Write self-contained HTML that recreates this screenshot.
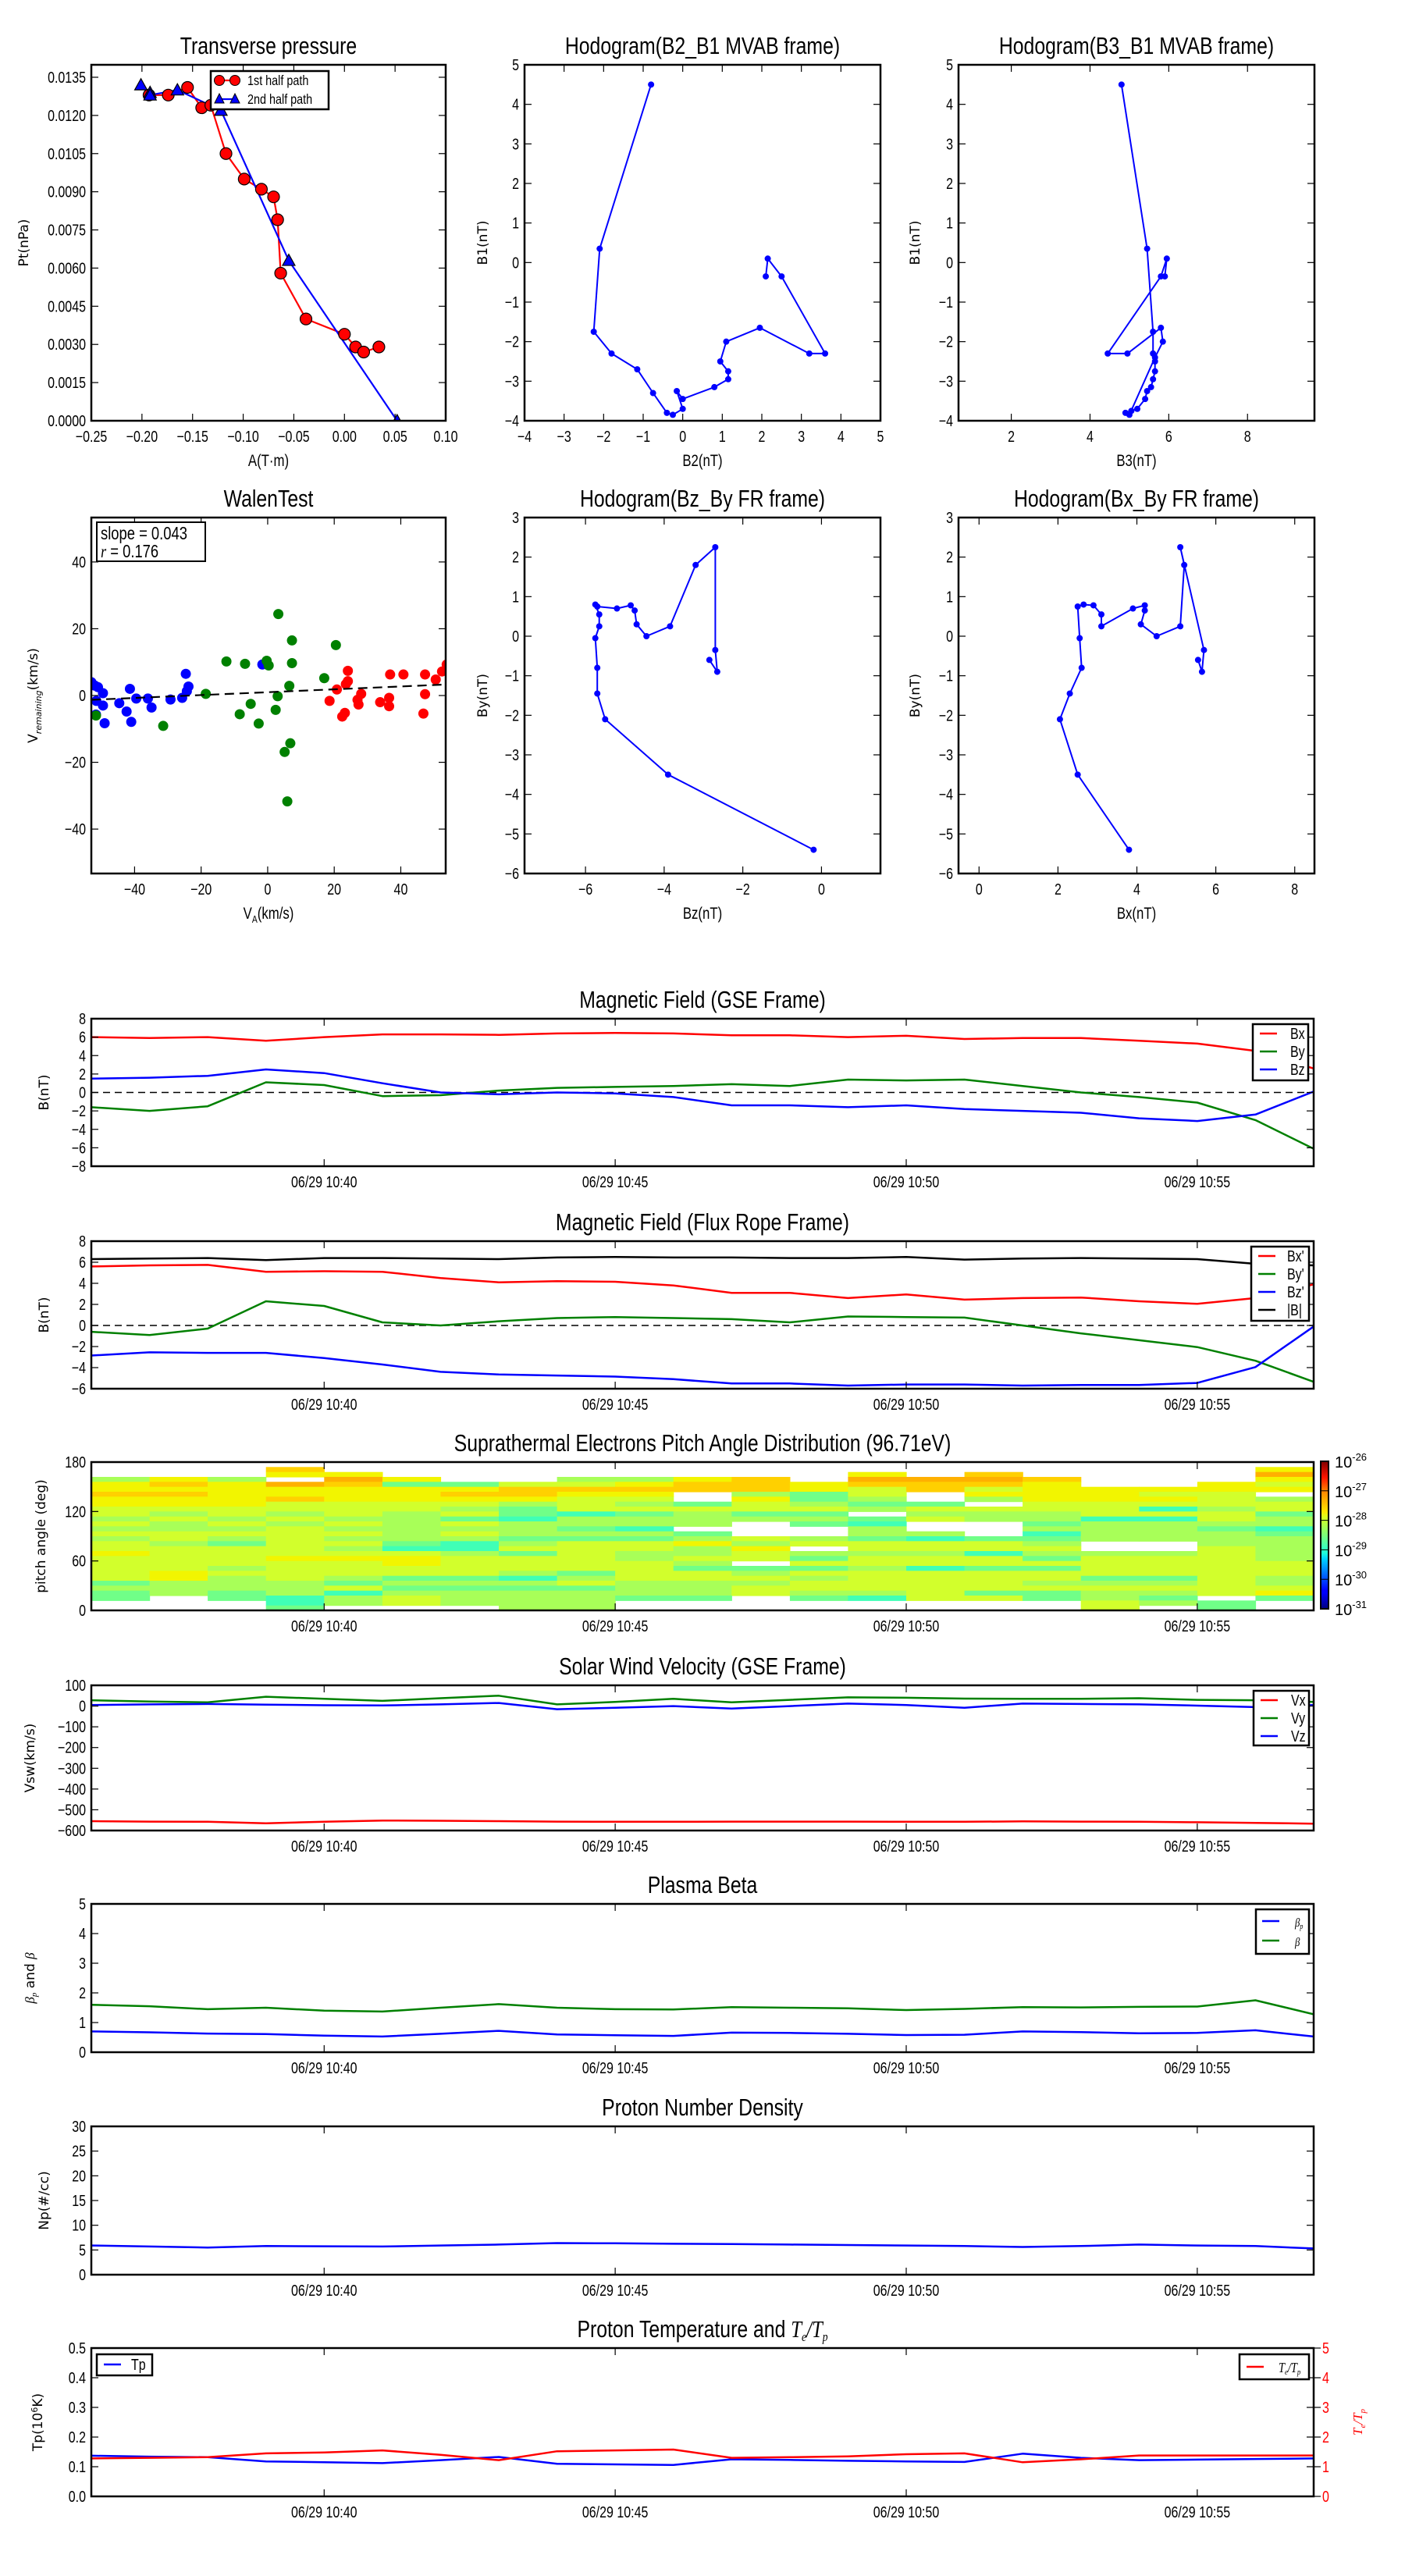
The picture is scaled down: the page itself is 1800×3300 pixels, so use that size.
<!DOCTYPE html>
<html><head><meta charset="utf-8"><title>Flux rope analysis</title>
<style>
html,body{margin:0;padding:0;background:#fff;}
svg{display:block;}
</style></head>
<body>
<svg id="fig" xmlns="http://www.w3.org/2000/svg" width="1800" height="3300" viewBox="0 0 1800 3300">
<rect x="0" y="0" width="1800" height="3300" fill="#fff"/>
<defs>
<linearGradient id="jetgrad" x1="0" y1="1" x2="0" y2="0">
<stop offset="0" stop-color="#00007f"/><stop offset="0.11" stop-color="#0000ff"/><stop offset="0.125" stop-color="#0000ff"/>
<stop offset="0.34" stop-color="#00d4ff"/><stop offset="0.38" stop-color="#1fffd8"/><stop offset="0.5" stop-color="#7cff79"/>
<stop offset="0.62" stop-color="#d8ff1f"/><stop offset="0.66" stop-color="#ffe500"/><stop offset="0.8" stop-color="#ff8200"/>
<stop offset="0.89" stop-color="#ff1400"/><stop offset="1" stop-color="#7f0000"/>
</linearGradient>
</defs>
</svg>
<script>
// ---------------- data ----------------
const tp1A=[-0.193,-0.174,-0.155,-0.141,-0.132,-0.117,-0.099,-0.082,-0.070,-0.066,-0.063,-0.038,0.000,0.011,0.019,0.034];
const tp1P=[0.0128,0.0128,0.0131,0.0123,0.0124,0.0105,0.0095,0.0091,0.0088,0.0079,0.0058,0.0040,0.0034,0.0029,0.0027,0.0029];
const tp2A=[-0.201,-0.192,-0.192,-0.165,-0.122,-0.055,0.052];
const tp2P=[0.0132,0.0129,0.0128,0.0130,0.0122,0.0063,0.0000];
const h1B2=[-0.8,-2.1,-2.25,-1.8,-1.15,-0.75,-0.4,-0.25,0.0,-0.15,0.0,0.8,1.15,1.15,0.95,1.1,1.95,3.2,3.6,2.5,2.15,2.1];
const h1B1=[4.5,0.35,-1.75,-2.3,-2.7,-3.3,-3.8,-3.85,-3.7,-3.25,-3.45,-3.15,-2.95,-2.75,-2.5,-2.0,-1.65,-2.3,-2.3,-0.35,0.1,-0.35];
const h2B3=[4.8,5.45,5.6,5.6,5.65,5.65,5.6,5.55,5.45,5.4,5.2,5.05,4.9,5.0,5.65,5.85,5.8,4.95,4.45,5.8,5.95,5.9];
const h2B1=[4.5,0.35,-1.75,-2.3,-2.5,-2.75,-2.95,-3.15,-3.25,-3.45,-3.7,-3.75,-3.8,-3.85,-2.4,-2.0,-1.65,-2.3,-2.3,-0.35,0.1,-0.35];
const h3Bz=[-0.2,-3.9,-5.5,-5.7,-5.7,-5.75,-5.65,-5.65,-5.75,-5.7,-5.2,-4.85,-4.75,-4.7,-4.45,-3.85,-3.2,-2.7,-2.7,-2.65,-2.85];
const h3By=[-5.4,-3.5,-2.1,-1.45,-0.8,-0.05,0.25,0.55,0.8,0.75,0.7,0.78,0.65,0.3,0.0,0.25,1.8,2.25,-0.35,-0.9,-0.6];
const h4Bx=[3.8,2.5,2.05,2.3,2.6,2.55,2.5,2.65,2.9,3.1,3.1,3.9,4.2,4.2,4.1,4.5,5.1,5.2,5.1,5.7,5.65,5.55];
const h4By=[-5.4,-3.5,-2.1,-1.45,-0.8,-0.05,0.75,0.8,0.78,0.55,0.25,0.7,0.78,0.65,0.3,0.0,0.25,1.8,2.25,-0.35,-0.9,-0.6];
const wBlueX=[-53,-52,-51,-51.5,-51.6,-49.5,-49.5,-49,-44.6,-42.4,-41.4,-41,-39.5,-36,-34.9,-29.2,-25.7,-24.3,-23.8,-24.6,-1.6];
const wBlueY=[4,3,2.5,-1.6,-5.7,0.7,-3,-8.3,-2.3,-4.8,2,-7.9,-0.9,-0.9,-3.6,-1.2,-0.7,1.3,2.7,6.5,9.3];
const wGreenX=[-51.6,-31.4,-18.6,-12.4,-8.4,-6.8,-5.1,-2.7,-0.3,0.3,2.4,3,3.2,5.1,5.9,6.5,6.8,7.3,7.3,17,20.5];
const wGreenY=[-6,-9.1,0.5,10.2,-5.6,9.5,-2.5,-8.4,10.4,9,-4.3,-0.2,24.4,-16.9,-31.7,2.9,-14.3,16.5,9.7,5.2,15.1];
const wRedX=[18.6,20.8,22.4,23.2,23.5,24.1,24.1,27,27.3,28.1,33.8,36.5,36.5,36.8,40.8,47.3,46.8,47.3,50.5,52.4,53.8];
const wRedY=[-1.6,1.8,-6.3,-5.2,3.4,4.3,7.4,-1.3,-2.7,0.5,-2,-0.7,-3.2,6.3,6.3,0.4,-5.4,6.3,4.8,7.2,9.3];
const walenSlope=0.043, walenIntercept=1.0;
const minutes=[36,37,38,39,40,41,42,43,44,45,46,47,48,49,50,51,52,53,54,55,56,57];
const gseBx=[6.0,5.9,6.0,5.6,6.0,6.3,6.3,6.25,6.4,6.45,6.4,6.2,6.2,6.0,6.15,5.8,5.9,5.9,5.6,5.3,4.5,2.6];
const gseBy=[-1.6,-2.0,-1.5,1.1,0.8,-0.4,-0.3,0.2,0.5,0.6,0.7,0.9,0.7,1.4,1.3,1.4,0.7,0.0,-0.5,-1.1,-3.0,-6.1];
const gseBz=[1.5,1.6,1.8,2.5,2.1,1.0,0.0,-0.2,0.0,-0.1,-0.5,-1.4,-1.4,-1.6,-1.4,-1.8,-2.0,-2.2,-2.8,-3.1,-2.4,0.1];
const frBx=[5.6,5.7,5.75,5.1,5.15,5.1,4.5,4.1,4.2,4.15,3.8,3.1,3.1,2.6,2.95,2.45,2.6,2.65,2.3,2.05,2.6,3.9];
const frBy=[-0.6,-0.9,-0.3,2.3,1.85,0.3,0.0,0.4,0.7,0.8,0.7,0.6,0.3,0.85,0.8,0.75,0.0,-0.75,-1.4,-2.05,-3.35,-5.35];
const frBz=[-2.85,-2.55,-2.6,-2.6,-3.1,-3.7,-4.4,-4.65,-4.75,-4.85,-5.1,-5.5,-5.5,-5.7,-5.6,-5.6,-5.7,-5.65,-5.65,-5.45,-3.95,-0.1];
const frBt=[6.3,6.35,6.4,6.2,6.4,6.4,6.35,6.3,6.45,6.5,6.45,6.45,6.4,6.4,6.5,6.25,6.35,6.4,6.35,6.3,5.85,5.7];
// PAD: 30 rows (top=174-180 deg ... bottom=0-6 deg), 21 one-minute columns; letters = flux level, '.' = no data
const padRows=[
".....................",
"...b................c",
"...cc........c.b....a",
"ece.ac..eecb.aaab...c",
"cbcabffddcbbcbbbc..cd",
"cccccccbbbbbcdbdcccccd",
"bbccccbbcc.efd.cccdd",
"cccbccccdd.cfe.ecccde",
"cccddddedefdeff.ddddd",
"ddddddefdddddeddddgede",
"dedededfgfeff.eeedddf",
"ededeefgeeeeefdeeggde",
"dedededeeee.fg..feeee",
"eeedeeeefg...e..eeefg",
"dddddedeeef..ee.geeef",
"ededeeefffedefgffeeeee",
"defddfgeddcedddde..ee",
"ddddeggdddec.dddd..de",
"cdddddefdeedeeegeeede",
"dddcccdddeddfdddfddde",
"dddddcdddde.ddddddddd",
"ddedddddddfffegffdddd",
"dcdddddefddeddddddddd",
"dcedeffgedddeddddffde",
"feeefeeedeeeddddeeede",
"eeeedffffeedddddddddd",
"fefegeeeeeedeedffeedcd",
"f.fgedeeeff.fgddfef.f",
"...gedeee........def.",
"...f...ee........d.f."];
const padLevels={a:-27.2,b:-27.5,c:-27.85,d:-28.15,e:-28.45,f:-28.75,g:-29.05};
const vswVx=[-555,-557,-558,-565,-558,-552,-553,-555,-557,-558,-558,-557,-557,-557,-558,-558,-556,-557,-558,-560,-563,-567];
const vswVy=[28,22,18,45,35,25,38,50,8,20,35,18,30,42,40,36,35,35,38,30,28,20];
const vswVz=[5,8,10,7,4,3,8,15,-15,-8,0,-12,0,12,5,-8,12,10,8,2,-5,5];
const betaP=[0.7,0.67,0.63,0.61,0.56,0.53,0.62,0.72,0.6,0.57,0.55,0.66,0.65,0.62,0.58,0.59,0.7,0.68,0.64,0.65,0.74,0.53];
const betaT=[1.6,1.55,1.45,1.5,1.4,1.37,1.5,1.62,1.5,1.45,1.44,1.52,1.5,1.48,1.42,1.46,1.52,1.51,1.53,1.54,1.75,1.28];
const np=[5.9,5.7,5.5,5.8,5.75,5.7,5.9,6.1,6.4,6.35,6.25,6.2,6.1,6.0,5.9,5.8,5.6,5.8,6.1,5.9,5.8,5.3];
const tpT=[0.137,0.134,0.132,0.118,0.115,0.112,0.122,0.133,0.11,0.108,0.106,0.125,0.123,0.12,0.118,0.116,0.144,0.13,0.122,0.124,0.126,0.128];
const teTp=[1.28,1.3,1.32,1.45,1.48,1.55,1.4,1.22,1.52,1.55,1.58,1.3,1.32,1.35,1.42,1.45,1.15,1.25,1.38,1.38,1.38,1.38];
const timeTicks=[40,45,50,55];
const timeTickLabels=["06/29 10:40","06/29 10:45","06/29 10:50","06/29 10:55"];

// ---------------- drawing ----------------
const NS='http://www.w3.org/2000/svg';
const svg=document.getElementById('fig');
const FN='"Liberation Sans",sans-serif';
const FW='"DejaVu Sans","Liberation Sans",sans-serif';
const CX=0.8; // horizontal condense factor for narrow matplotlib-like text
let clipN=0;
function E(tag,a,p){const e=document.createElementNS(NS,tag);for(const k in a)e.setAttribute(k,a[k]);(p||svg).appendChild(e);return e;}
function T(p,x,y,s,size,anchor,extra){const e=E('text',Object.assign({x:x,y:y,'font-size':size,'text-anchor':anchor||'middle','font-family':FN,fill:'#000'},extra||{}),p);e.textContent=s;return e;}
function TC(p,x,y,s,size,anchor,extra){const e=E('text',Object.assign({x:0,y:0,transform:`translate(${x},${y}) scale(${CX},1)`,'font-size':size,'text-anchor':anchor||'middle','font-family':FN,fill:'#000'},extra||{}),p);e.innerHTML=s;return e;}
function lin(d0,d1,r0,r1){return v=>r0+(v-d0)*(r1-r0)/(d1-d0);}
function fmt(v){return String(v).replace('-','\u2212');}

function axes(name,box,xd,yd,xt,xtl,yt,ytl,title,xlab,ylab){
  const [x0,y0,x1,y1]=box;
  const g=E('g',{});
  
  
  const sx=lin(xd[0],xd[1],x0,x1), sy=lin(yd[0],yd[1],y1,y0);
  const id='clip'+(clipN++);
  const cp=E('clipPath',{id:id},g);E('rect',{x:x0,y:y0,width:x1-x0,height:y1-y0},cp);
  const data=E('g',{'clip-path':'url(#'+id+')'},g);
  
  
  xt.forEach((v,i)=>{
    const X=sx(v);
    E('line',{x1:X,y1:y1,x2:X,y2:y1-9,stroke:'#000','stroke-width':1.2},g);
    E('line',{x1:X,y1:y0,x2:X,y2:y0+9,stroke:'#000','stroke-width':1.2},g);
    const t=TC(g,X,y1+27,xtl[i],20);
    
    
  });
  yt.forEach((v,i)=>{
    const Y=sy(v);
    E('line',{x1:x0,y1:Y,x2:x0+9,y2:Y,stroke:'#000','stroke-width':1.2},g);
    E('line',{x1:x1,y1:Y,x2:x1-9,y2:Y,stroke:'#000','stroke-width':1.2},g);
    const t=TC(g,x0-7,Y+7,ytl[i],20,'end');
    
    
  });
  const fr=E('rect',{x:x0,y:y0,width:x1-x0,height:y1-y0,fill:'none',stroke:'#000','stroke-width':2.5},g);
  
  
  if(title){const t=TC(g,(x0+x1)/2,y0-14,title,31);
    
    }
  if(xlab){const t=TC(g,(x0+x1)/2,y1+58,xlab,21);
    
    }
  if(ylab){const t=T(g,0,0,'',ylab[2]||17,'middle',{transform:'translate('+ylab[1]+','+(y0+y1)/2+') rotate(-90)','font-family':ylab[3]||FW});t.innerHTML=ylab[0];
    
    }
  return {g,data,sx,sy,frame:fr};
}
function poly(ax,xs,ys,color,w,nm,dash){
  const pts=xs.map((x,i)=>ax.sx(x).toFixed(1)+','+ax.sy(ys[i]).toFixed(1)).join(' ');
  const l=E('polyline',{points:pts,fill:'none',stroke:color,'stroke-width':w,'stroke-linejoin':'round'},ax.data);
  if(dash)l.setAttribute('stroke-dasharray',dash);
  
  
  return l;
}
function dots(ax,xs,ys,color,r,nm,stroke){
  xs.forEach((x,i)=>{
    const c=E('circle',{cx:ax.sx(x),cy:ax.sy(ys[i]),r:r,fill:color,stroke:stroke||'none','stroke-width':1.2},ax.data);
    
    
  });
}
function tris(ax,xs,ys,color,s,nm){
  xs.forEach((x,i)=>{
    const X=ax.sx(x),Y=ax.sy(ys[i]);
    const p=E('polygon',{points:`${X},${Y-s} ${X-s},${Y+s*0.8} ${X+s},${Y+s*0.8}`,fill:color,stroke:'#000','stroke-width':1.2},ax.data);
    
    
  });
}
function legend(parent,x,y,w,h,items,name){
  const g=E('g',{},parent);
  
  
  E('rect',{x:x,y:y,width:w,height:h,fill:'#fff',stroke:'#000','stroke-width':2.5},g);
  items.forEach((it,i)=>{
    const Y=y+it.dy;
    const e=E('g',{},g);
    
    
    E('line',{x1:x+it.lx,y1:Y,x2:x+it.lx+22,y2:Y,stroke:it.c,'stroke-width':2.5},e);
    TC(e,x+it.tx,Y+7,it.s,it.fs||20,it.ta||'start');
  });
  return g;
}
const L=(v)=>v.map(fmt);

// ---- Transverse pressure
{
const xt=[-0.25,-0.2,-0.15,-0.1,-0.05,0,0.05,0.1], xl=["\u22120.25","\u22120.20","\u22120.15","\u22120.10","\u22120.05","0.00","0.05","0.10"];
const yt=[0,0.0015,0.003,0.0045,0.006,0.0075,0.009,0.0105,0.012,0.0135];
const yl=["0.0000","0.0015","0.0030","0.0045","0.0060","0.0075","0.0090","0.0105","0.0120","0.0135"];
const ax=axes('transverse-pressure-chart',[117,83,571,539],[-0.25,0.10],[0,0.01399],xt,xl,yt,yl,'Transverse pressure','A(T·m)',['Pt(nPa)',36,17]);
poly(ax,tp1A,tp1P,'#ff0000',2.2,'first-half-path-line');
poly(ax,tp2A,tp2P,'#0000ff',2.2,'second-half-path-line');
dots(ax,tp1A,tp1P,'#ff0000',7.5,'first-half-point','#000');
tris(ax,tp2A,tp2P,'#0000ff',8,'second-half-point');
const lg=legend(ax.g,270,91,151,49,[],'pressure-legend');
const c1=E('g',{},lg);
E('line',{x1:281,y1:103,x2:301,y2:103,stroke:'#ff0000','stroke-width':2.2},c1);
E('circle',{cx:281,cy:103,r:6.5,fill:'#f00',stroke:'#000'},c1);E('circle',{cx:301,cy:103,r:6.5,fill:'#f00',stroke:'#000'},c1);
TC(c1,317,109,'1st half path',18,'start');
const c2=E('g',{},lg);
E('line',{x1:281,y1:127,x2:301,y2:127,stroke:'#0000ff','stroke-width':2.2},c2);
E('polygon',{points:'281,120 275,132 287,132',fill:'#00f',stroke:'#000'},c2);E('polygon',{points:'301,120 295,132 307,132',fill:'#00f',stroke:'#000'},c2);
TC(c2,317,133,'2nd half path',18,'start');
}
// ---- Hodogram B2_B1
{
const xt=[-4,-3,-2,-1,0,1,2,3,4,5], yt=[-4,-3,-2,-1,0,1,2,3,4,5];
const ax=axes('hodogram-b2-b1-chart',[672,83,1128,539],[-4,5],[-4,5],xt,L(xt),yt,L(yt),'Hodogram(B2_B1 MVAB frame)','B2(nT)',['B1(nT)',624,17]);
poly(ax,h1B2,h1B1,'#0000ff',2,'hodogram-b2-b1-line');
dots(ax,h1B2,h1B1,'#0000ff',4,'hodogram-b2-b1-point');
}
// ---- Hodogram B3_B1
{
const xt=[2,4,6,8], yt=[-4,-3,-2,-1,0,1,2,3,4,5];
const ax=axes('hodogram-b3-b1-chart',[1228,83,1684,539],[0.66,9.7],[-4,5],xt,L(xt),yt,L(yt),'Hodogram(B3_B1 MVAB frame)','B3(nT)',['B1(nT)',1178,17]);
poly(ax,h2B3,h2B1,'#0000ff',2,'hodogram-b3-b1-line');
dots(ax,h2B3,h2B1,'#0000ff',4,'hodogram-b3-b1-point');
}
// ---- Walen test
{
const xt=[-40,-20,0,20,40], yt=[-40,-20,0,20,40];
const ax=axes('walen-test-chart',[117,663,571,1119],[-53,53.5],[-53.3,53.3],xt,L(xt),yt,L(yt),'WalenTest','V<tspan font-size="13" dy="5">A</tspan><tspan dy="-5">(km/s)</tspan>',['V<tspan font-size="11" font-style="italic" dy="5">remaining</tspan><tspan dy="-5">(km/s)</tspan>',48,17]);
dots(ax,wBlueX,wBlueY,'#0000ff',6.5,'walen-point-blue');
dots(ax,wGreenX,wGreenY,'#008000',6.5,'walen-point-green');
dots(ax,wRedX,wRedY,'#ff0000',6.5,'walen-point-red');
const fx=[-53,53.5];
poly(ax,fx,fx.map(v=>walenSlope*v+walenIntercept),'#000',2.2,'walen-fit-line','12,7');
const bx=E('g',{},ax.g);
E('rect',{x:124,y:669,width:139,height:50,fill:'#fff',stroke:'#000','stroke-width':2},bx);
TC(bx,129,691,'slope = 0.043',23,'start');
TC(bx,129,714,'<tspan font-style="italic" font-family="Liberation Serif">r</tspan> = 0.176',23,'start');
}
// ---- Hodogram Bz_By FR
{
const xt=[-6,-4,-2,0], yt=[-6,-5,-4,-3,-2,-1,0,1,2,3];
const ax=axes('hodogram-bz-by-chart',[672,663,1128,1119],[-7.55,1.5],[-6,3],xt,L(xt),yt,L(yt),'Hodogram(Bz_By FR frame)','Bz(nT)',['By(nT)',624,17]);
poly(ax,h3Bz,h3By,'#0000ff',2,'hodogram-bz-by-line');
dots(ax,h3Bz,h3By,'#0000ff',4,'hodogram-bz-by-point');
}
// ---- Hodogram Bx_By FR
{
const xt=[0,2,4,6,8], yt=[-6,-5,-4,-3,-2,-1,0,1,2,3];
const ax=axes('hodogram-bx-by-chart',[1228,663,1684,1119],[-0.52,8.5],[-6,3],xt,L(xt),yt,L(yt),'Hodogram(Bx_By FR frame)','Bx(nT)',['By(nT)',1178,17]);
poly(ax,h4Bx,h4By,'#0000ff',2,'hodogram-bx-by-line');
dots(ax,h4Bx,h4By,'#0000ff',4,'hodogram-bx-by-point');
}
// ---- Time series
const TX=[36,57];
function tsAxes(name,y0,y1,yd,yt,ytl,title,ylab,ylx){
  return axes(name,[117,y0,1683,y1],TX,yd,timeTicks,timeTickLabels,yt,ytl,title,null,[ylab,ylx||62,17]);
}
{
const yt=[-8,-6,-4,-2,0,2,4,6,8];
const ax=tsAxes('magnetic-field-gse-chart',1305,1494,[-8,8],yt,L(yt),'Magnetic Field (GSE Frame)','B(nT)');
poly(ax,[36,57],[0,0],'#000',1.5,'zero-line','9,6');
poly(ax,minutes,gseBx,'#ff0000',2.5,'bx-line');
poly(ax,minutes,gseBy,'#008000',2.5,'by-line');
poly(ax,minutes,gseBz,'#0000ff',2.5,'bz-line');
legend(ax.g,1605,1312,71,72,[{c:'#f00',s:'Bx',dy:12,lx:9,tx:48},{c:'#008000',s:'By',dy:35,lx:9,tx:48},{c:'#00f',s:'Bz',dy:58,lx:9,tx:48}],'gse-legend');
}
{
const yt=[-6,-4,-2,0,2,4,6,8];
const ax=tsAxes('magnetic-field-flux-rope-chart',1590,1779,[-6,8],yt,L(yt),'Magnetic Field (Flux Rope Frame)','B(nT)');
poly(ax,[36,57],[0,0],'#000',1.5,'zero-line','9,6');
poly(ax,minutes,frBx,'#ff0000',2.5,'bx-prime-line');
poly(ax,minutes,frBy,'#008000',2.5,'by-prime-line');
poly(ax,minutes,frBz,'#0000ff',2.5,'bz-prime-line');
poly(ax,minutes,frBt,'#000000',2.5,'b-magnitude-line');
legend(ax.g,1603,1597,74,95,[{c:'#f00',s:"Bx'",dy:12,lx:9,tx:46},{c:'#008000',s:"By'",dy:35,lx:9,tx:46},{c:'#00f',s:"Bz'",dy:58,lx:9,tx:46},{c:'#000',s:'|B|',dy:81,lx:9,tx:46}],'flux-rope-legend');
}
{
const yt=[0,60,120,180];
const ax=tsAxes('pitch-angle-distribution-chart',1873,2063,[0,180],yt,L(yt),'Suprathermal Electrons Pitch Angle Distribution (96.71eV)','pitch angle (deg)',58);
const cmapStops=[[-29.05,'#40ffb6'],[-28.75,'#70ff88'],[-28.45,'#a8ff58'],[-28.15,'#d2ff2c'],[-27.85,'#f2f500'],[-27.5,'#ffd000'],[-27.2,'#ffb000']];
function cmap(v){let best=cmapStops[0];cmapStops.forEach(s=>{if(Math.abs(s[0]-v)<Math.abs(best[0]-v))best=s;});return best[1];}
padRows.forEach((row,ri)=>{
  const chars=row.split('');
  for(let ci=0;ci<21&&ci<chars.length;ci++){
    const ch=chars[ci]; if(!(ch in padLevels))continue;
    const lv=padLevels[ch], a0=180-(ri+1)*6, a1=180-ri*6;
    const X0=ax.sx(minutes[ci]),X1=ax.sx(minutes[ci+1]),Y0=ax.sy(a1),Y1=ax.sy(a0);
    const r=E('rect',{x:X0.toFixed(1),y:Y0.toFixed(1),width:(X1-X0+0.6).toFixed(1),height:(Y1-Y0+0.6).toFixed(1),fill:cmap(lv)},ax.data);
    
    
  }
});
const cb=E('g',{});


E('rect',{x:1692,y:1872,width:10,height:189,fill:'url(#jetgrad)',stroke:'#000','stroke-width':2},cb);
['26','27','28','29','30','31'].forEach((e,i)=>{
  const Y=1872+i*189/5;
  E('line',{x1:1692,y1:Y,x2:1702,y2:Y,stroke:'#000','stroke-width':1},cb);
  const t=T(cb,1710,Y+8,'',20,'start');t.innerHTML='10<tspan dy="-9" font-size="13">-'+e+'</tspan>';
  
  
});
}
{
const yt=[-600,-500,-400,-300,-200,-100,0,100];
const ax=tsAxes('solar-wind-velocity-chart',2159,2345,[-600,100],yt,L(yt),'Solar Wind Velocity (GSE Frame)','Vsw(km/s)',44);
poly(ax,minutes,vswVx,'#ff0000',2.5,'vx-line');
poly(ax,minutes,vswVy,'#008000',2.5,'vy-line');
poly(ax,minutes,vswVz,'#0000ff',2.5,'vz-line');
legend(ax.g,1606,2166,71,70,[{c:'#f00',s:'Vx',dy:12,lx:9,tx:48},{c:'#008000',s:'Vy',dy:35,lx:9,tx:48},{c:'#00f',s:'Vz',dy:58,lx:9,tx:48}],'velocity-legend');
}
{
const yt=[0,1,2,3,4,5];
const ax=tsAxes('plasma-beta-chart',2439,2629,[0,5],yt,L(yt),'Plasma Beta','<tspan font-style="italic" font-family="Liberation Serif">β<tspan font-size="11" dy="3">p</tspan></tspan><tspan dy="-3"> and </tspan><tspan font-style="italic" font-family="Liberation Serif">β</tspan>',44);
poly(ax,minutes,betaT,'#008000',2.5,'beta-line');
poly(ax,minutes,betaP,'#0000ff',2.5,'beta-p-line');
legend(ax.g,1609,2446,68,57,[{c:'#00f',s:'<tspan font-style="italic" font-family="Liberation Serif">β<tspan font-size="10" dy="3">p</tspan></tspan>',dy:15,lx:8,tx:50,fs:16},{c:'#008000',s:'<tspan font-style="italic" font-family="Liberation Serif">β</tspan>',dy:40,lx:8,tx:50,fs:16}],'beta-legend');
}
{
const yt=[0,5,10,15,20,25,30];
const ax=tsAxes('proton-density-chart',2724,2914,[0,30],yt,L(yt),'Proton Number Density','Np(#/cc)',62);
poly(ax,minutes,np,'#0000ff',2.5,'np-line');
}
{
const yt=[0,0.1,0.2,0.3,0.4,0.5], yl=["0.0","0.1","0.2","0.3","0.4","0.5"];
const ax=tsAxes('proton-temperature-chart',3008,3198,[0,0.5],yt,yl,'Proton Temperature and <tspan font-style="italic" font-family="Liberation Serif">T<tspan font-size="17" dy="5">e</tspan><tspan dy="-5">/T</tspan><tspan font-size="17" dy="5">p</tspan></tspan>','Tp(10<tspan font-size="11" dy="-6">6</tspan><tspan dy="6">K)</tspan>',54);
poly(ax,minutes,tpT,'#0000ff',2.5,'tp-line');
const sy2=lin(0,5,3198,3008);
const pts=minutes.map((m,i)=>ax.sx(m).toFixed(1)+','+sy2(teTp[i]).toFixed(1)).join(' ');
const rl=E('polyline',{points:pts,fill:'none',stroke:'#ff0000','stroke-width':2.5},ax.data);


[0,1,2,3,4,5].forEach(v=>{
  const Y=sy2(v);
  E('line',{x1:1683,y1:Y,x2:1692,y2:Y,stroke:'#000','stroke-width':1.2},ax.g);
  const t=TC(ax.g,1694,Y+7,String(v),20,'start',{fill:'#ff0000'});
  
  
});
const rt=T(ax.g,0,0,'',17,'middle',{transform:'translate(1745,3103) rotate(-90)',fill:'#ff0000','font-family':'Liberation Serif','font-style':'italic'});
rt.innerHTML='T<tspan font-size="11" dy="4">e</tspan><tspan dy="-4">/T</tspan><tspan font-size="11" dy="4">p</tspan>';


legend(ax.g,124,3016,71,27,[{c:'#00f',s:'Tp',dy:13,lx:9,tx:44}],'tp-legend');
legend(ax.g,1588,3016,89,32,[{c:'#f00',s:'<tspan font-style="italic" font-family="Liberation Serif">T<tspan font-size="11" dy="3">e</tspan><tspan dy="-3">/T</tspan><tspan font-size="11" dy="3">p</tspan></tspan>',dy:16,lx:9,tx:50,fs:18}],'te-tp-legend');
}
</script>
</body></html>
